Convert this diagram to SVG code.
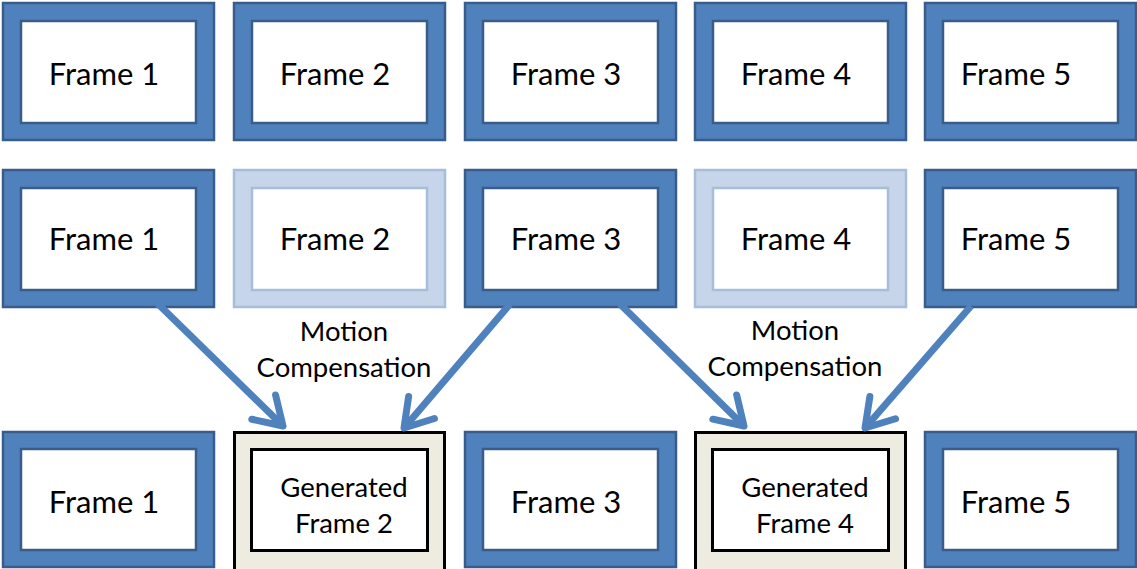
<svg xmlns="http://www.w3.org/2000/svg" width="1137" height="569" viewBox="0 0 1137 569">
  <style>
    .outer { fill: #4F81BD; stroke: #385D8A; stroke-width: 2.5; }
    .inner { fill: #FFFFFF; stroke: #385D8A; stroke-width: 2.5; }
    .outer-faded { fill: #C6D5E9; stroke: #A7BDD9; stroke-width: 2.5; }
    .inner-faded { fill: #FFFFFF; stroke: #A7BDD9; stroke-width: 2.5; }
    .outer-gen { fill: #EEECE1; stroke: #000000; stroke-width: 3; }
    .inner-gen { fill: #FFFFFF; stroke: #000000; stroke-width: 3; }
    .label { font-family: Lato, "Liberation Sans", sans-serif; font-size: 31px; fill: #000000; text-anchor: middle; }
    .small { font-size: 27.5px; }
    .arrow { stroke: #4F81BD; stroke-width: 7; fill: none; marker-end: url(#chevron); }
  </style>
  <defs>
    <marker id="chevron" markerUnits="userSpaceOnUse" orient="auto" markerWidth="60" markerHeight="60" refX="0" refY="0" viewBox="-40 -30 60 60" overflow="visible">
      <path d="M-27,-17 L0,0 L-27,17" fill="none" stroke="#4F81BD" stroke-width="7" stroke-linecap="round" stroke-linejoin="round"/>
    </marker>
  </defs>

  <rect width="1137" height="569" fill="#FFFFFF"/>

  <!-- Row 1: original sequence -->
  <g id="r1-frame1"><rect class="outer" x="3" y="3" width="211" height="137"/><rect class="inner" x="21" y="21" width="175" height="102"/><text class="label" x="104" y="85">Frame 1</text></g>
  <g id="r1-frame2"><rect class="outer" x="234" y="3" width="211" height="137"/><rect class="inner" x="252" y="21" width="175" height="102"/><text class="label" x="335" y="85">Frame 2</text></g>
  <g id="r1-frame3"><rect class="outer" x="465" y="3" width="211" height="137"/><rect class="inner" x="483" y="21" width="175" height="102"/><text class="label" x="566" y="85">Frame 3</text></g>
  <g id="r1-frame4"><rect class="outer" x="695" y="3" width="211" height="137"/><rect class="inner" x="713" y="21" width="175" height="102"/><text class="label" x="796" y="85">Frame 4</text></g>
  <g id="r1-frame5"><rect class="outer" x="925" y="3" width="211" height="137"/><rect class="inner" x="943" y="21" width="175" height="102"/><text class="label" x="1016" y="85">Frame 5</text></g>

  <!-- Row 2: frames 2 and 4 dropped -->
  <g id="r2-frame1"><rect class="outer" x="3" y="170" width="211" height="137"/><rect class="inner" x="21" y="188" width="175" height="102"/><text class="label" x="104" y="250">Frame 1</text></g>
  <g id="r2-frame2"><rect class="outer-faded" x="234" y="170" width="211" height="137"/><rect class="inner-faded" x="252" y="188" width="175" height="102"/><text class="label" x="335" y="250">Frame 2</text></g>
  <g id="r2-frame3"><rect class="outer" x="465" y="170" width="211" height="137"/><rect class="inner" x="483" y="188" width="175" height="102"/><text class="label" x="566" y="250">Frame 3</text></g>
  <g id="r2-frame4"><rect class="outer-faded" x="695" y="170" width="211" height="137"/><rect class="inner-faded" x="713" y="188" width="175" height="102"/><text class="label" x="796" y="250">Frame 4</text></g>
  <g id="r2-frame5"><rect class="outer" x="925" y="170" width="211" height="137"/><rect class="inner" x="943" y="188" width="175" height="102"/><text class="label" x="1016" y="250">Frame 5</text></g>

  <!-- Motion compensation labels -->
  <g id="mc-label-1"><text class="label small" x="344" y="341">Motion</text><text class="label small" x="344" y="377">Compensation</text></g>
  <g id="mc-label-2"><text class="label small" x="795" y="340">Motion</text><text class="label small" x="795" y="376">Compensation</text></g>

  <!-- Row 3: reconstructed sequence -->
  <g id="r3-frame1"><rect class="outer" x="3" y="432" width="211" height="135"/><rect class="inner" x="21" y="449" width="175" height="101"/><text class="label" x="104" y="513">Frame 1</text></g>
  <g id="r3-gen2"><rect class="outer-gen" x="234.5" y="432.5" width="210" height="138"/><rect class="inner-gen" x="251.5" y="449.5" width="176" height="101"/><text class="label small" x="344" y="497">Generated</text><text class="label small" x="344" y="533">Frame 2</text></g>
  <g id="r3-frame3"><rect class="outer" x="465" y="432" width="211" height="135"/><rect class="inner" x="483" y="449" width="175" height="101"/><text class="label" x="566" y="513">Frame 3</text></g>
  <g id="r3-gen4"><rect class="outer-gen" x="695.5" y="432.5" width="210" height="138"/><rect class="inner-gen" x="712.5" y="449.5" width="176" height="101"/><text class="label small" x="805" y="497">Generated</text><text class="label small" x="805" y="533">Frame 4</text></g>
  <g id="r3-frame5"><rect class="outer" x="925" y="432" width="211" height="135"/><rect class="inner" x="943" y="449" width="175" height="101"/><text class="label" x="1016" y="513">Frame 5</text></g>

  <!-- Connectors -->
  <g id="connectors">
    <line class="arrow" x1="153" y1="299" x2="283" y2="426"/>
    <line class="arrow" x1="510" y1="304" x2="404" y2="428"/>
    <line class="arrow" x1="620" y1="304" x2="744" y2="426"/>
    <line class="arrow" x1="971" y1="306" x2="865" y2="428"/>
  </g>
</svg>
